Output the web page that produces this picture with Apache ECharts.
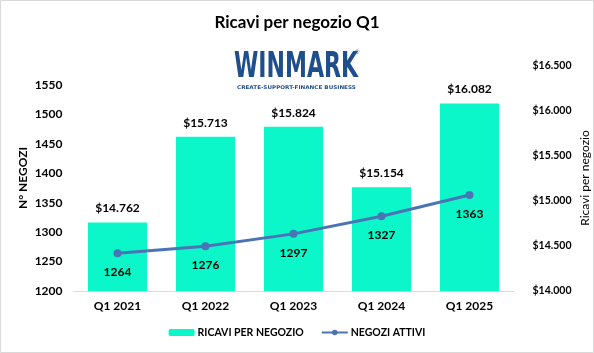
<!DOCTYPE html>
<html><head><meta charset="utf-8">
<script src="https://cdn.jsdelivr.net/npm/echarts@6/dist/echarts.min.js"></script>
<style>html,body{margin:0;padding:0;background:#fff}#c{width:594px;height:353px}</style>
</head><body><div id="c"></div>
<script>
const categories = ['Q1 2021','Q1 2022','Q1 2023','Q1 2024','Q1 2025'];
const ricaviPerNegozio = [14762, 15713, 15824, 15154, 16082];
const negoziAttivi = [1264, 1276, 1297, 1327, 1363];
const leftTicks = {min: 1200, interval: 50};
const rightTicks = {min: 14000, max: 16500, interval: 500};
const leftAxisName = 'N° NEGOZI';
const rightAxisName = 'Ricavi per negozio';

const FONT = 'Lato, "Open Sans", sans-serif';
function fmtDollar(v){ return '$' + String(Math.round(v)).replace(/\B(?=(\d{3})+(?!\d))/g, '.'); }

const chart = echarts.init(document.getElementById('c'), null, {renderer:'canvas'});
chart.setOption({
  animation: false,
  backgroundColor: '#fff',
  textStyle: {fontFamily: FONT},
  title: {
    text: 'Ricavi per negozio Q1', left: 'center', top: 9,
    textStyle: {fontFamily: FONT, fontSize: 17, fontWeight: 'bold', color: '#000'}
  },
  graphic: [
    {type:'rect', shape:{x:0.5,y:0.5,width:593,height:352}, style:{fill:'none', stroke:'#d9d9d9', lineWidth:1}, silent:true},
    {type:'text', x:234, y:50, scaleX:0.70, style:{text:'WINMARK', font:'bold 35px "DejaVu Sans Condensed", sans-serif', fill:'#1f4e8c'}},
    {type:'text', x:355, y:49, style:{text:'®', font:'6px sans-serif', fill:'#1f4e8c'}},
    {type:'text', x:237, y:85, scaleX:1.13, style:{text:'CREATE-SUPPORT-FINANCE BUSINESS', font:'bold 5px "DejaVu Sans", sans-serif', fill:'#1f4e8c'}},
    {type:'text', x:23, y:178, rotation:Math.PI/2, style:{text:leftAxisName, font:'bold 12px ' + FONT, fill:'#000', align:'center', verticalAlign:'middle'}},
    {type:'text', x:585, y:178, rotation:Math.PI/2, style:{text:rightAxisName, font:'12px ' + FONT, fill:'#000', align:'center', verticalAlign:'middle'}}
  ],
  grid: {left: 73.5, right: 80.5, top: 66, bottom: 62},
  legend: {
    bottom: 10, left: 'center', itemGap: 17, itemWidth: 26, itemHeight: 7,
    textStyle: {fontFamily: FONT, fontSize: 10.5, fontWeight: 'bold', color: '#000', padding: [0,0,0,-2]},
    data: ['RICAVI PER NEGOZIO', 'NEGOZI ATTIVI']
  },
  xAxis: {
    type: 'category', data: categories,
    axisLine: {lineStyle: {color: '#d9d9d9'}},
    axisTick: {show: false},
    axisLabel: {fontFamily: FONT, fontSize: 12, fontWeight: 'bold', color: '#000', margin: 9}
  },
  yAxis: [
    {
      type: 'value', min: leftTicks.min, max: 1582, interval: leftTicks.interval,
      splitLine: {show: false}, axisLine: {show: false}, axisTick: {show: false},
      axisLabel: {fontFamily: FONT, fontSize: 12, fontWeight: 'bold', color: '#000', margin: 11, showMaxLabel: false,
        formatter: v => (v % 50 === 0 ? String(v) : '')}
    },
    {
      type: 'value', min: rightTicks.min, max: rightTicks.max, interval: rightTicks.interval, position: 'right',
      splitLine: {show: false}, axisLine: {show: false}, axisTick: {show: false},
      axisLabel: {fontFamily: FONT, fontSize: 10.5, fontWeight: 'bold', color: '#000', margin: 19, formatter: fmtDollar}
    }
  ],
  series: [
    {
      name: 'RICAVI PER NEGOZIO', type: 'bar', yAxisIndex: 1, data: ricaviPerNegozio,
      barWidth: 59, itemStyle: {color: '#0cf7c9'},
      label: {show: true, position: 'top', distance: 8, formatter: p => fmtDollar(p.value),
        fontFamily: FONT, fontSize: 12, fontWeight: 'bold', color: '#000'}
    },
    {
      name: 'NEGOZI ATTIVI', type: 'line', yAxisIndex: 0, data: negoziAttivi,
      symbol: 'circle', symbolSize: 8,
      lineStyle: {color: '#4a74b5', width: 3}, itemStyle: {color: '#4a74b5'},
      label: {show: true, position: 'bottom', distance: 9,
        fontFamily: FONT, fontSize: 12, fontWeight: 'bold', color: '#000'}
    }
  ]
});
</script></body></html>
